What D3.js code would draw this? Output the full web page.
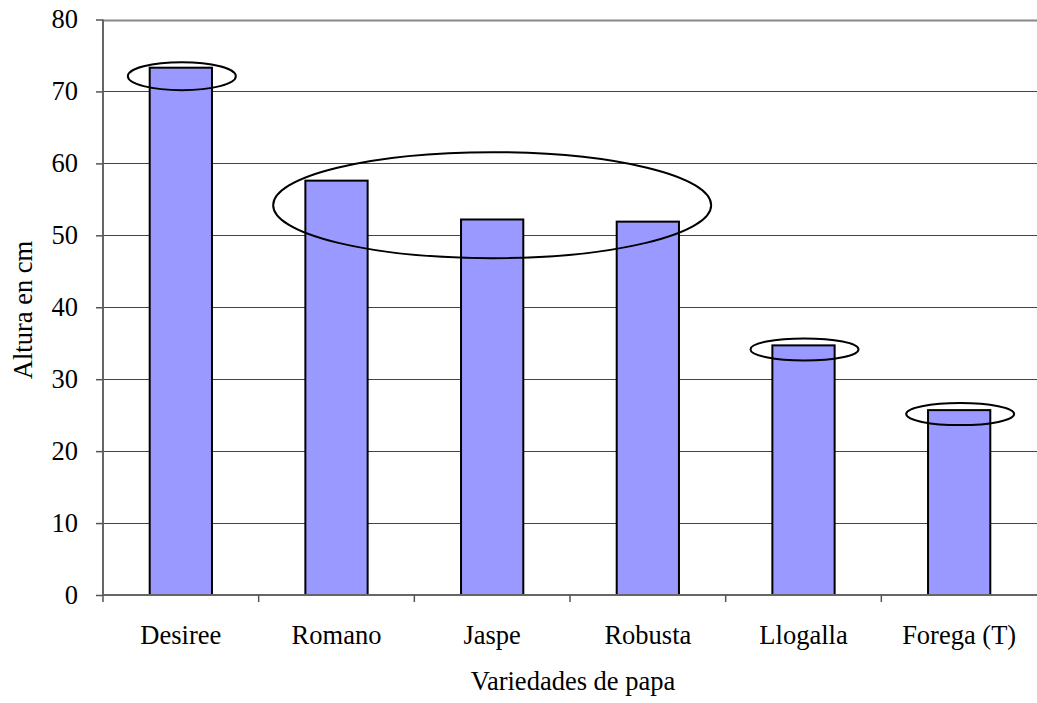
<!DOCTYPE html>
<html>
<head>
<meta charset="utf-8">
<script src="https://cdn.jsdelivr.net/npm/d3@7"></script>
<style>
  body { margin: 0; background: #fff; }
  text { font-family: "Liberation Serif", "Times New Roman", serif; fill: #000; }
</style>
</head>
<body>
<div class="chart"></div>
<script>
// data
var variedades = ["Desiree", "Romano", "Jaspe", "Robusta", "Llogalla", "Forega (T)"];
var altura = [73.3, 57.6, 52.2, 51.9, 34.7, 25.7];
var yTicks = [0, 10, 20, 30, 40, 50, 60, 70, 80];

// groups circled on the chart (first..last category of each ellipse)
var grupos = [["Desiree", "Desiree"], ["Romano", "Robusta"], ["Llogalla", "Llogalla"], ["Forega (T)", "Forega (T)"]];

var w = 1037, h = 703;
var plotLeft = 103, plotRight = 1037, plotTop = 19.5, plotBottom = 595;
var fontSize = '26.5px';

var svg = d3.select('.chart').append('svg')
	.attr('width', w)
	.attr('height', h);

var x = d3.scaleBand()
	.domain(variedades)
	.range([plotLeft, plotRight])
	.paddingInner(0.6)
	.paddingOuter(0.3);

var y = d3.scaleLinear()
	.domain([0, 80])
	.range([plotBottom, plotTop]);

var step = x.step();

/*--------------------------- GRID ---------------------------*/
svg.selectAll('.grid').data(yTicks.filter(function(d){ return d > 0; }))
	.enter().append('line')
	.attr('x1', plotLeft).attr('x2', plotRight)
	.attr('y1', function(d){ return Math.round(y(d)) + 0.5; })
	.attr('y2', function(d){ return Math.round(y(d)) + 0.5; })
	.attr('stroke', function(d){ return d === 80 ? '#888' : '#444'; })
	.attr('stroke-width', function(d){ return d === 80 ? 2 : 1; });

/*--------------------------- BARS ---------------------------*/
svg.selectAll('.bar').data(altura)
	.enter().append('rect')
	.attr('x', function(d, i){ return x(variedades[i]); })
	.attr('y', function(d){ return y(d); })
	.attr('width', x.bandwidth())
	.attr('height', function(d){ return y(0) - y(d); })
	.attr('fill', '#9999ff')
	.attr('stroke', '#000')
	.attr('stroke-width', 2);

/*--------------------------- AXES ---------------------------*/
var yAxis = svg.append('g')
	.attr('transform', 'translate(' + plotLeft + ',0)')
	.call(d3.axisLeft(y).tickValues(yTicks).tickSize(7).tickPadding(18));

var xAxis = svg.append('g')
	.attr('transform', 'translate(0,' + plotBottom + ')')
	.call(d3.axisBottom(x).tickSize(0).tickPadding(30));

[yAxis, xAxis].forEach(function(ax){
	ax.select('.domain').attr('stroke', '#666').attr('stroke-width', 2);
	ax.selectAll('.tick line').attr('stroke', '#555').attr('stroke-width', 1.5);
	ax.selectAll('text')
		.attr('fill', '#000')
		.style('font-family', '"Liberation Serif", serif')
		.style('font-size', fontSize);
});
xAxis.select('.domain').attr('d', 'M' + plotLeft + ',0H' + plotRight);
yAxis.select('.domain').attr('d', 'M0,' + plotTop + 'V' + plotBottom);

// category separators under the x axis
svg.selectAll('.sep').data(d3.range(variedades.length))
	.enter().append('line')
	.attr('x1', function(i){ return plotLeft + i * step; })
	.attr('x2', function(i){ return plotLeft + i * step; })
	.attr('y1', plotBottom).attr('y2', plotBottom + 7)
	.attr('stroke', '#555').attr('stroke-width', 1.5);

/*--------------------------- ELLIPSES ---------------------------*/
var val = function(name){ return altura[variedades.indexOf(name)]; };

svg.selectAll('.circulo').data(grupos)
	.enter().append('ellipse')
	.attr('cx', function(g){ return (x(g[0]) + x(g[1]) + x.bandwidth()) / 2 + (g[0] === g[1] ? 1 : 0); })
	.attr('cy', function(g){
		if (g[0] === g[1]) return y(val(g[0])) + (g[0] === "Desiree" ? 8.5 : 4);
		return y(d3.mean([val(g[0]), val(g[1])])) + 4;
	})
	.attr('rx', function(g){ return g[0] === g[1] ? 54 : 219; })
	.attr('ry', function(g){ return g[0] === g[1] ? (g[0] === "Desiree" ? 14 : 11) : 53; })
	.attr('fill', 'none')
	.attr('stroke', '#000')
	.attr('stroke-width', 2);

/*--------------------------- LABELS ---------------------------*/
svg.append('text')
	.attr('x', (plotLeft + plotRight) / 2 + 3)
	.attr('y', 690)
	.attr('text-anchor', 'middle')
	.style('font-size', fontSize)
	.text('Variedades de papa');

svg.append('text')
	.attr('transform', 'translate(32,310) rotate(-90)')
	.attr('text-anchor', 'middle')
	.style('font-size', fontSize)
	.text('Altura en cm');
</script>
</body>
</html>
